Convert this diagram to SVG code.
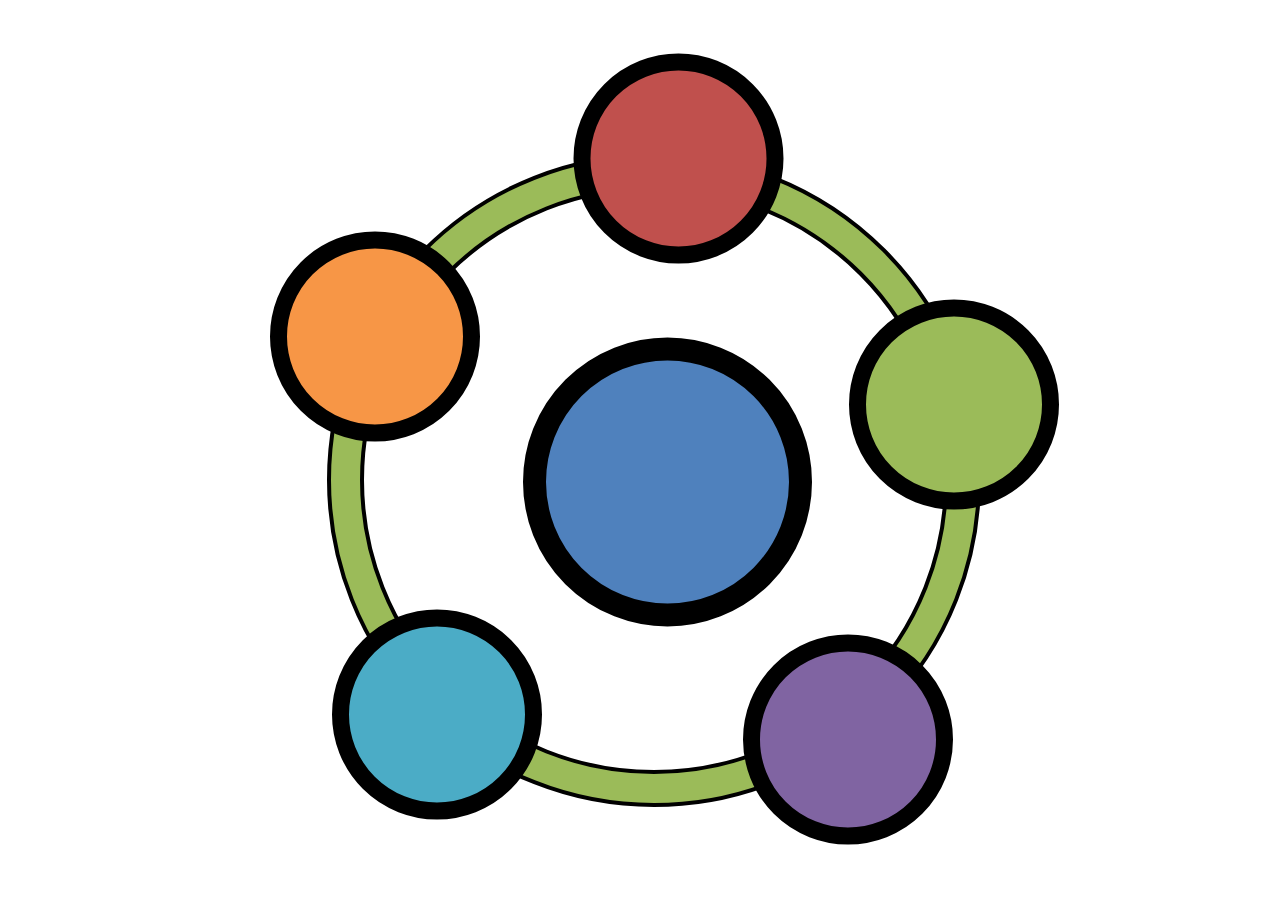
<svg xmlns="http://www.w3.org/2000/svg" width="1280" height="905" viewBox="0 0 1280 905">
<style>
.band-out{fill:none;stroke:#000;stroke-width:37}
.band-in{fill:none;stroke:#9BBB59;stroke-width:29}
.node{stroke:#000;stroke-width:17}
</style>
<rect width="1280" height="905" fill="#fff"/>
<g id="connectors">
<circle class="band-out" cx="654" cy="480" r="308.5"/>
<circle class="band-in" cx="654" cy="480" r="308.5"/>
</g>
<g id="center"><circle cx="667.5" cy="482" r="133" fill="#4F81BD" stroke="#000" stroke-width="23"/></g>
<g id="red"><circle class="node" cx="678.5" cy="158.5" r="96.5" fill="#C0504D"/></g>
<g id="orange"><circle class="node" cx="375" cy="336.5" r="96.5" fill="#F79646"/></g>
<g id="green"><circle class="node" cx="954" cy="404.5" r="96.5" fill="#9BBB59"/></g>
<g id="cyan"><circle class="node" cx="437" cy="714.5" r="96.5" fill="#4BACC6"/></g>
<g id="purple"><circle class="node" cx="848" cy="739.5" r="96.5" fill="#8064A2"/></g>
</svg>
